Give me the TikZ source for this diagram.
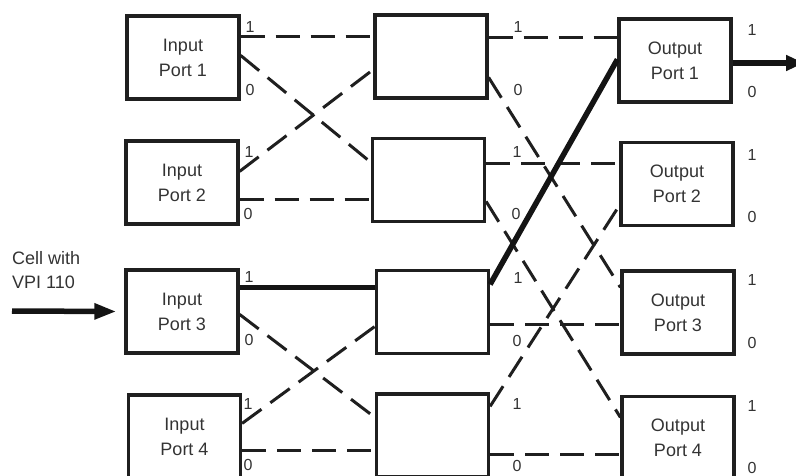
\documentclass[tikz,border=0pt]{standalone}
\usepackage{fontspec}
\setmainfont{Liberation Sans}
\usetikzlibrary{arrows.meta}
\begin{document}
\begin{tikzpicture}[x=1pt,y=-1pt,
  port/.style={draw=black!88, line width=3.2pt, minimum width=112pt, minimum height=83pt,
    inner sep=0pt, align=center, text=black!80, font=\fontsize{18}{25}\selectfont},
  dsh/.style={draw=black!88, line width=3pt, dash pattern=on 24pt off 11pt},
  heavy/.style={draw=black!92, line width=5.5pt},
  lbl/.style={font=\fontsize{16}{18}\selectfont, text=black!80, inner sep=0pt},
  captext/.style={font=\fontsize{18}{24}\selectfont, text=black!80, align=left, inner sep=0pt}]
\useasboundingbox (0,0) rectangle (796,476);
\clip (0,0) rectangle (796,476);

% boxes
\node[port] (in1) at (183,57.5)  {Input\\Port 1};
\node[port] (in2) at (182,182.5) {Input\\Port 2};
\node[port] (in3) at (182,311.5) {Input\\Port 3};
\node[port] (in4) at (184.5,436.5) {Input\\Port 4};

\node[port] (ma) at (431,56.5) {};
\node[port] (mb) at (428.5,180) {};
\node[port] (mc) at (432.5,312) {};
\node[port] (md) at (432.5,435.5) {};

\node[port] (o1) at (675,60.5) {Output\\Port 1};
\node[port] (o2) at (677,184)  {Output\\Port 2};
\node[port] (o3) at (678,312.5) {Output\\Port 3};
\node[port] (o4) at (678,438)  {Output\\Port 4};

% stage 1 connectors
\draw[dsh] ([yshift=-22pt]in1.north east) -- ([yshift=-23pt]ma.north west);
\draw[dsh] ([yshift=-41pt]in1.north east) -- ([yshift=-25.5pt]mb.north west);
\draw[dsh] ([yshift=-32pt]in2.north east) -- ([yshift=-56pt]ma.north west);
\draw[dsh] ([yshift=-60pt]in2.north east) -- ([yshift=-62.5pt]mb.north west);
\draw[dsh] ([yshift=-46pt]in3.north east) -- ([yshift=-25pt]md.north west);
\draw[dsh] ([yshift=-30pt]in4.north east) -- ([yshift=-57.5pt]mc.north west);
\draw[dsh] ([yshift=-57pt]in4.north east) -- ([yshift=-58pt]md.north west);

% stage 2 connectors
\draw[dsh] ([yshift=-24pt]ma.north east) -- ([yshift=-20pt]o1.north west);
\draw[dsh] ([yshift=-64pt]ma.north east) -- ([yshift=-18pt]o3.north west);
\draw[dsh] ([yshift=-26.5pt]mb.north east) -- ([yshift=-22.5pt]o2.north west);
\draw[dsh] ([yshift=-64.5pt]mb.north east) -- ([yshift=-22.5pt]o4.north west);
\draw[dsh] ([yshift=-55.5pt]mc.north east) -- ([yshift=-55pt]o3.north west);
\draw[dsh] ([yshift=-14pt]md.north east) -- ([yshift=-64.5pt]o2.north west);
\draw[dsh] ([yshift=-62pt]md.north east) -- ([yshift=-59.5pt]o4.north west);

% highlighted path
\draw[heavy] ([yshift=-19pt]in3.north east) -- ([yshift=-18.5pt]mc.north west);
\draw[heavy] ([yshift=-15.5pt]mc.north east) -- ([yshift=-42pt]o1.north west);

% input and output arrows
\coordinate (src) at (12,311);
\coordinate (dst) at (804,63);
\draw[heavy,-{Triangle[length=22pt,width=15pt]}] (src) -- ([xshift=-8pt]in3.west);
\draw[heavy,-{Triangle[length=18pt,width=15pt]}] ([yshift=-2.5pt]o1.east) -- (dst);
\node[captext, anchor=west] (cell) at (12,270) {Cell with\\VPI 110};

% port labels
\foreach \x/\y/\t in {250/27/1, 250/90/0, 249/152/1, 248/214/0,
                      249/277/1, 249/340/0, 248/404/1, 248/465/0,
                      518/27/1, 518/90/0, 517/152/1, 516/214/0,
                      518/278/1, 517/341/0, 517/404/1, 517/466/0,
                      752/30/1, 752/92/0, 752/155/1, 752/217/0,
                      752/280/1, 752/343/0, 752/406/1, 752/468/0}
  \node[lbl] at (\x,\y) {\t};
\end{tikzpicture}
\end{document}
